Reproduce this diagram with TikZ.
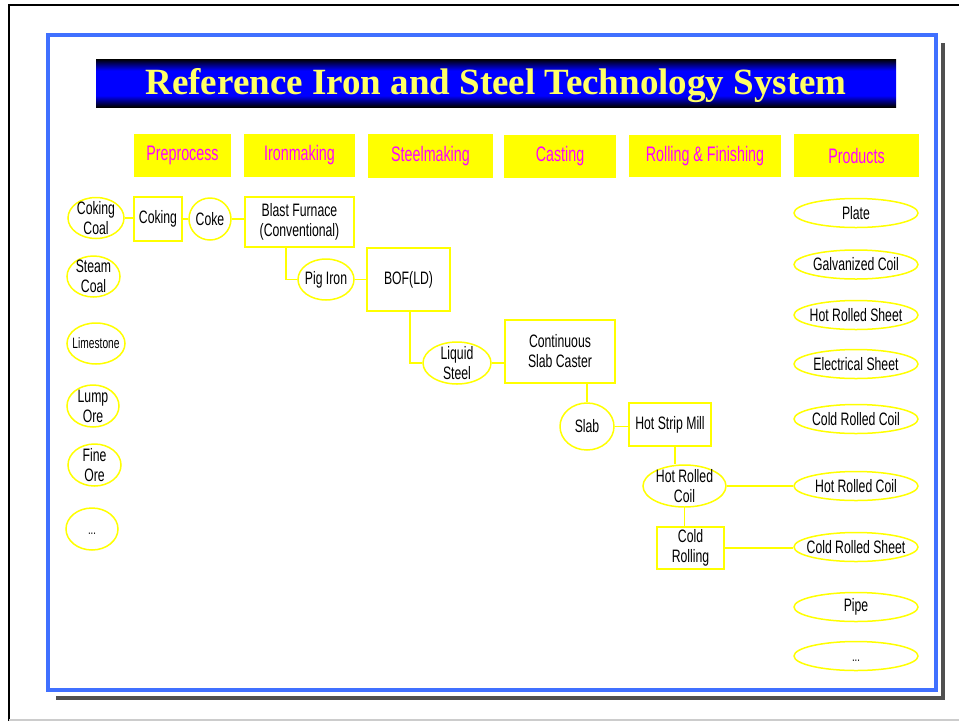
\documentclass[tikz,border=0pt]{standalone}
\usepackage{fontspec}
\setmainfont{Liberation Serif}
\newfontfamily\narrowfont[FakeStretch=0.68]{Liberation Sans}
\usetikzlibrary{shapes.geometric,calc}
\definecolor{yel}{RGB}{255,255,0}
\definecolor{mag}{RGB}{255,0,255}
\definecolor{frameblue}{RGB}{64,112,255}
\definecolor{shadowgray}{RGB}{80,80,80}
\definecolor{titleyel}{RGB}{255,255,102}
\definecolor{titleblue}{RGB}{0,0,255}
\pgfdeclareverticalshading{titlebar}{100bp}{color(0bp)=(black); color(25bp)=(black); color(37bp)=(titleblue); color(63bp)=(titleblue); color(75bp)=(black); color(100bp)=(black)}
\begin{document}
\begin{tikzpicture}[x=1pt,y=-1pt,
  box/.style={draw=yel, line width=1.5pt, rectangle, inner sep=0pt, align=center, font={\narrowfont\fontsize{18}{20}\selectfont}},
  ell/.style={draw=yel, line width=1.5pt, ellipse, inner sep=0pt},
  lbl/.style={align=center, inner sep=0pt, font={\narrowfont\fontsize{18}{20}\selectfont}},
  lblsmall/.style={align=center, inner sep=0pt, font={\narrowfont\fontsize{15}{17}\selectfont}},
  lbldots/.style={inner sep=0pt, yshift=-5pt, font={\narrowfont\fontsize{14}{16}\selectfont}},
  head/.style={fill=yel, inner sep=0pt, text=mag, font={\narrowfont\fontsize{21}{24}\selectfont}},
  link/.style={draw=yel, line width=1.5pt},
  prod/.style={ell, minimum width=124pt, minimum height=29pt}]
\useasboundingbox (0,0) rectangle (959,721);
% outer frame
\draw[black, line width=2pt] (9,721) -- (9,5) -- (959,5);
\draw[black!20, line width=1.5pt] (9,720) -- (959,720);
% shadow and blue frame
\draw[shadowgray, line width=4pt] (943,43) -- (943,698) -- (56,698);
\draw[frameblue, line width=4pt] (48,35) rectangle (936,690);
% title
\node[shade, shading=titlebar, minimum width=800pt, minimum height=48pt, inner sep=0pt] (title) at (496,83) {};
\node[anchor=base, text=titleyel, inner sep=0pt, font={\fontsize{37}{40}\selectfont\bfseries}] (titletext) at (496,94) {Reference Iron and Steel Technology System};
% headers
\node[head, minimum width=97pt, minimum height=43pt] (h1) at (182.5,155.5) {Preprocess};
\node[head, minimum width=111pt, minimum height=43pt] (h2) at (299.5,155.5) {Ironmaking};
\node[head, minimum width=125pt, minimum height=44pt] (h3) at (430.5,156) {Steelmaking};
\node[head, minimum width=112pt, minimum height=43pt] (h4) at (560,156.5) {Casting};
\node[head, minimum width=152pt, minimum height=42pt] (h5) at (705,156) {Rolling \& Finishing};
\node[head, minimum width=125pt, minimum height=43pt] (h6) at (856.5,155.5) {Products};
% raw materials
\node[ell, minimum width=56pt, minimum height=41pt, label={[lbl]center:{Coking\\Coal}}] (cc) at (96,218) {};
\node[ell, minimum width=53pt, minimum height=41pt, label={[lbl]center:{Steam\\Coal}}] (sc) at (93.5,276.5) {};
\node[ell, minimum width=58pt, minimum height=41pt, label={[lblsmall]center:{Limestone}}] (ls) at (96,343.5) {};
\node[ell, minimum width=52pt, minimum height=42pt, label={[lbl]center:{Lump\\Ore}}] (lo) at (93,406) {};
\node[ell, minimum width=53pt, minimum height=42pt, label={[lbl]center:{Fine\\Ore}}] (fo) at (94.5,465) {};
\node[ell, minimum width=52pt, minimum height=42pt, label={[lbldots]center:{...}}] (rm) at (92,529) {};
% process chain
\node[box, minimum width=48pt, minimum height=44pt] (coking) at (158,219) {Coking};
\node[ell, minimum width=42pt, minimum height=42pt, label={[lbl]center:{Coke}}] (coke) at (210,219) {};
\node[box, minimum width=109pt, minimum height=50pt] (bf) at (299.5,222) {Blast Furnace\\(Conventional)};
\node[ell, minimum width=56pt, minimum height=41pt, label={[lbl]center:{Pig Iron}}] (pig) at (326,279.5) {};
\node[box, minimum width=83pt, minimum height=63pt] (bof) at (408.5,279.5) {BOF(LD)};
\node[ell, minimum width=68pt, minimum height=42pt, label={[lbl]center:{Liquid\\Steel}}] (liq) at (457,363) {};
\node[box, minimum width=110pt, minimum height=63pt] (csc) at (560,351.5) {Continuous\\Slab Caster};
\node[ell, minimum width=54pt, minimum height=47pt, label={[lbl]center:{Slab}}] (slab) at (587,426.5) {};
\node[box, minimum width=82pt, minimum height=43pt] (hsm) at (670,424.5) {Hot Strip Mill};
\node[ell, minimum width=83pt, minimum height=42pt, label={[lbl]center:{Hot Rolled\\Coil}}] (hrc) at (684.5,486) {};
\node[box, minimum width=67pt, minimum height=42pt] (cr) at (690.5,548) {Cold\\Rolling};
% products
\node[prod, label={[lbl]center:{Plate}}] (p1) at (856,213) {};
\node[prod, label={[lbl]center:{Galvanized Coil}}] (p2) at (856,264.5) {};
\node[prod, label={[lbl]center:{Hot Rolled Sheet}}] (p3) at (856,315) {};
\node[prod, label={[lbl]center:{Electrical Sheet}}] (p4) at (856,364) {};
\node[prod, label={[lbl]center:{Cold Rolled Coil}}] (p5) at (856,419) {};
\node[prod, label={[lbl]center:{Hot Rolled Coil}}] (p6) at (856,486) {};
\node[prod, label={[lbl]center:{Cold Rolled Sheet}}] (p7) at (856,547) {};
\node[prod, label={[lbl]center:{Pipe}}] (p8) at (856,607) {};
\node[prod, label={[lbldots]center:{...}}] (p9) at (856,656) {};
% connectors
\draw[link] (cc.east) -- (cc.east -| coking.west);
\draw[link] (coking.east) -- (coke.west);
\draw[link] (coke.east) -- (coke.east -| bf.west);
\draw[link] ([xshift=-13.5pt]bf.south) |- (pig.west);
\draw[link] (pig.east) -- (bof.west);
\draw[link] ([xshift=1.5pt]bof.south) |- (liq.west);
\draw[link] (liq.east) -- (liq.east -| csc.west);
\draw[link] (slab.north |- csc.south) -- (slab.north);
\draw[link] (slab.east) -- (slab.east -| hsm.west);
\draw[link] ([xshift=5pt]hsm.south) -- ([xshift=5pt]hsm.south |- hrc.north);
\draw[link] (hrc.east) -- (p6.west);
\draw[link] (hrc.south) -- (hrc.south |- cr.north);
\draw[link] (cr.east) -- (cr.east -| p7.west);
\end{tikzpicture}
\end{document}
